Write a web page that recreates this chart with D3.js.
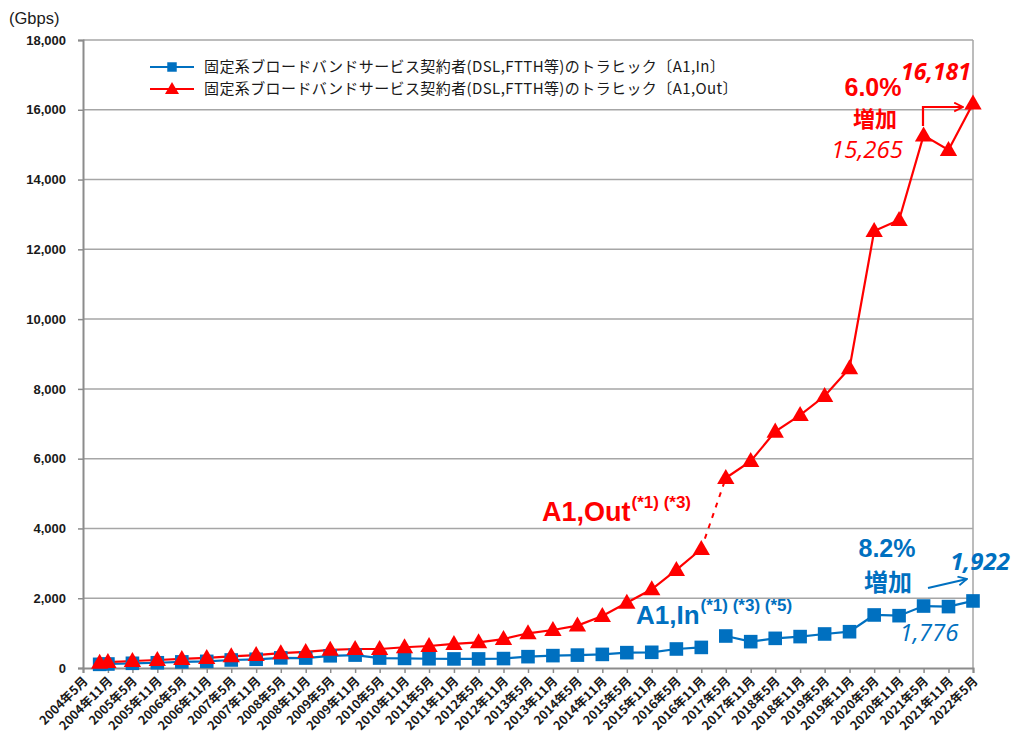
<!DOCTYPE html>
<html><head><meta charset="utf-8">
<script src="https://cdn.jsdelivr.net/npm/d3@7"></script>
<style>
html,body{margin:0;padding:0;background:#fff;}
svg{display:block;font-family:"Liberation Sans",Arial,sans-serif;}
</style></head>
<body><svg id="c" width="1012" height="741"></svg>
<script>
const tickLabels = ["2004年5月","2004年11月","2005年5月","2005年11月","2006年5月","2006年11月","2007年5月","2007年11月","2008年5月","2008年11月","2009年5月","2009年11月","2010年5月","2010年11月","2011年5月","2011年11月","2012年5月","2012年11月","2013年5月","2013年11月","2014年5月","2014年11月","2015年5月","2015年11月","2016年5月","2016年11月","2017年5月","2017年11月","2018年5月","2018年11月","2019年5月","2019年11月","2020年5月","2020年11月","2021年5月","2021年11月","2022年5月"];
const pointDates = ["2004年9月","2004年11月","2005年5月","2005年11月","2006年5月","2006年11月","2007年5月","2007年11月","2008年5月","2008年11月","2009年5月","2009年11月","2010年5月","2010年11月","2011年5月","2011年11月","2012年5月","2012年11月","2013年5月","2013年11月","2014年5月","2014年11月","2015年5月","2015年11月","2016年5月","2016年11月","2017年5月","2017年11月","2018年5月","2018年11月","2019年5月","2019年11月","2020年5月","2020年11月","2021年5月","2021年11月","2022年5月"];
const a1In  = [105,115,135,150,175,190,230,250,290,285,350,370,285,275,265,260,260,270,325,355,370,390,440,450,545,590,917,755,850,900,975,1040,1520,1500,1776,1760,1922];
const a1Out = [150,170,200,230,260,290,335,370,425,460,520,545,545,595,630,690,735,830,995,1090,1215,1490,1870,2255,2810,3410,5445,5930,6775,7250,7795,8590,12525,12840,15265,14850,16181];
const yTicks = [0,2000,4000,6000,8000,10000,12000,14000,16000,18000];
const legendLabels = ["固定系ブロードバンドサービス契約者(DSL,FTTH等)のトラヒック〔A1,In〕","固定系ブロードバンドサービス契約者(DSL,FTTH等)のトラヒック〔A1,Out〕"];
const breakAfter = "2016年11月";

const parse = s => { const m = s.match(/(\d+)年(\d+)月/); return new Date(+m[1], +m[2]-1, 1); };
const BLUE = "#0070C0", RED = "#FF0000", GRID = "#A6A6A6";
const svg = d3.select("#c");
const L = 83, R = 973, T = 40, B = 668;
const x = d3.scaleTime().domain([parse(tickLabels[0]), parse(tickLabels[tickLabels.length-1])]).range([L, R]);
const y = d3.scaleLinear().domain([0, 18000]).range([B, T]);

svg.append("g").selectAll("line").data(yTicks.filter(d=>d>0)).join("line")
  .attr("x1", L).attr("x2", R).attr("y1", d=>y(d)).attr("y2", d=>y(d))
  .attr("stroke", GRID).attr("stroke-width", 1.5);
svg.append("line").attr("x1", R).attr("x2", R).attr("y1", T).attr("y2", B).attr("stroke", GRID).attr("stroke-width", 1.5);

const ya = svg.append("g").attr("transform", `translate(${L},0)`)
  .call(d3.axisLeft(y).tickValues(yTicks).tickSize(5).tickFormat(d3.format(",")));
ya.select(".domain").attr("stroke", "#8c8c8c").attr("stroke-width", 2);
ya.selectAll(".tick line").attr("stroke", "#8c8c8c").attr("stroke-width", 1.5);
ya.selectAll("text").attr("font-size", 13).attr("font-weight", "bold").attr("fill", "#1a1a1a").attr("x", -17);

const xa = svg.append("g").attr("transform", `translate(0,${B})`)
  .call(d3.axisBottom(x).tickValues(tickLabels.map(parse)).tickSize(5).tickFormat((d,i)=>tickLabels[i]));
xa.select(".domain").attr("stroke", "#8c8c8c").attr("stroke-width", 2);
xa.selectAll(".tick line").attr("stroke", "#8c8c8c").attr("stroke-width", 1.5);
xa.selectAll("text").attr("font-size", 12.5).attr("font-weight", "bold").attr("fill", "#1a1a1a")
  .attr("text-anchor", "end").attr("dy", 0).attr("y", 0)
  .attr("transform", "translate(5,14) rotate(-45)")
  .style("font-family", "'Noto Sans CJK JP',sans-serif");

svg.append("text").attr("x", 9).attr("y", 24).attr("font-size", 16.5).attr("fill", "#1a1a1a").text("(Gbps)");

const pts = (vals) => pointDates.map((d,i)=>({d:parse(d), v:vals[i], k:d}));
const inPts = pts(a1In), outPts = pts(a1Out);
const bi = pointDates.indexOf(breakAfter);
const line = d3.line().x(p=>x(p.d)).y(p=>y(p.v));

[inPts.slice(0, bi+1), inPts.slice(bi+1)].forEach(seg=>{
  svg.append("path").attr("d", line(seg)).attr("fill","none").attr("stroke",BLUE).attr("stroke-width",2.2);
});
[outPts.slice(0, bi+1), outPts.slice(bi+1)].forEach(seg=>{
  svg.append("path").attr("d", line(seg)).attr("fill","none").attr("stroke",RED).attr("stroke-width",2.2);
});
svg.append("path").attr("d", line(outPts.slice(bi, bi+2))).attr("fill","none").attr("stroke",RED)
  .attr("stroke-width",2).attr("stroke-dasharray","5,6");

const sq = d3.symbol().type(d3.symbolSquare).size(185);
const tri = d3.symbol().type(d3.symbolTriangle).size(130);
svg.append("g").selectAll("path").data(inPts).join("path")
  .attr("d", sq).attr("transform", p=>`translate(${x(p.d)},${y(p.v)})`).attr("fill", BLUE);
svg.append("g").selectAll("path").data(outPts).join("path")
  .attr("d", tri).attr("transform", p=>`translate(${x(p.d)},${y(p.v)+1})`).attr("fill", RED);

const lg = svg.append("g").style("font-family", "'Noto Sans CJK JP',sans-serif");
[[BLUE, 67],[RED, 89]].forEach((c,i)=>{
  lg.append("line").attr("x1",150).attr("x2",194).attr("y1",c[1]).attr("y2",c[1]).attr("stroke",c[0]).attr("stroke-width",2);
  lg.append("path").attr("d", i===0 ? d3.symbol().type(d3.symbolSquare).size(90)() : d3.symbol().type(d3.symbolTriangle).size(85)())
    .attr("transform",`translate(172,${c[1]+(i?1:0)})`).attr("fill",c[0]);
  lg.append("text").attr("x",204).attr("y",c[1]+5).attr("font-size",15).attr("letter-spacing",0.4).attr("fill","#1a1a1a").text(legendLabels[i]);
});

const ann = svg.append("g").style("font-family","'Liberation Sans',Arial,sans-serif");
function label(xp, yp, main, sup, color, fs){
  const t = ann.append("text").attr("x",xp).attr("y",yp).attr("fill",color).attr("font-weight","bold");
  t.append("tspan").attr("font-size",fs).text(main);
  t.append("tspan").attr("font-size",17).attr("dy",-13).attr("dx",1).text(sup);
}
label(542, 521, "A1,Out", "(*1) (*3)", RED, 27);
label(636, 624, "A1,In", "(*1) (*3) (*5)", BLUE, 26);

const jp = "'Noto Sans CJK JP',sans-serif";
const os = "'Open Sans',sans-serif";
const fmt = d3.format(",");
ann.append("text").attr("x",873).attr("y",96).attr("text-anchor","middle").attr("font-size",25).attr("font-weight","bold").attr("fill",RED).text("6.0%");
ann.append("text").attr("x",875).attr("y",127).attr("text-anchor","middle").attr("font-size",22).attr("font-weight","bold").attr("fill",RED).style("font-family",jp).text("増加");
ann.append("text").attr("x",936).attr("y",80).attr("text-anchor","middle").attr("font-size",23).attr("font-weight","bold").attr("font-style","italic").attr("fill",RED).style("font-family",os).text(fmt(a1Out[36]));
ann.append("text").attr("x",867).attr("y",158).attr("text-anchor","middle").attr("font-size",24).attr("font-style","italic").attr("fill",RED).style("font-family",os).text(fmt(a1Out[34]));

ann.append("text").attr("x",887).attr("y",557).attr("text-anchor","middle").attr("font-size",25).attr("font-weight","bold").attr("fill",BLUE).text("8.2%");
ann.append("text").attr("x",888).attr("y",591).attr("text-anchor","middle").attr("font-size",24).attr("font-weight","bold").attr("fill",BLUE).style("font-family",jp).text("増加");
ann.append("text").attr("x",980).attr("y",570).attr("text-anchor","middle").attr("font-size",24).attr("font-weight","bold").attr("font-style","italic").attr("fill",BLUE).style("font-family",os).text(fmt(a1In[36]));
ann.append("text").attr("x",929).attr("y",641).attr("text-anchor","middle").attr("font-size",24).attr("font-style","italic").attr("fill",BLUE).style("font-family",os).text(fmt(a1In[34]));

svg.append("defs").html(`
<marker id="ar" viewBox="0 0 10 10" refX="9" refY="5" markerWidth="5" markerHeight="5" orient="auto"><path d="M1,1 L9,5 L1,9" fill="none" stroke="${RED}" stroke-width="1.6"/></marker>
<marker id="ab" viewBox="0 0 10 10" refX="9" refY="5" markerWidth="5" markerHeight="5" orient="auto"><path d="M1,1 L9,5 L1,9" fill="none" stroke="${BLUE}" stroke-width="1.6"/></marker>`);
svg.append("path").attr("d","M923,126 L923,107 L963,107").attr("fill","none").attr("stroke",RED).attr("stroke-width",2.2).attr("marker-end","url(#ar)");
svg.append("path").attr("d","M928,588 L967,579").attr("fill","none").attr("stroke",BLUE).attr("stroke-width",2.2).attr("marker-end","url(#ab)");
</script></body></html>
